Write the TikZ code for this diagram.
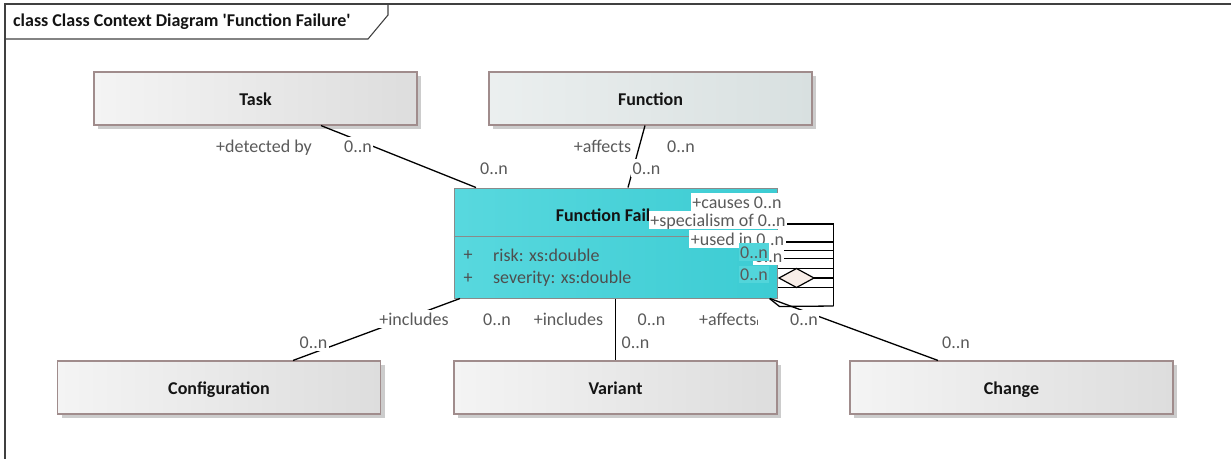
\documentclass[tikz,border=0pt]{standalone}
\usepackage{fontspec}
\setmainfont{Carlito}
\usetikzlibrary{shadows}

\definecolor{framegray}{HTML}{404040}
\definecolor{boxedge}{HTML}{A08C8C}
\definecolor{labelgray}{HTML}{5A5A5A}
\definecolor{attrgray}{HTML}{4E4E4E}
\definecolor{classL}{HTML}{F4F4F4}
\definecolor{classR}{HTML}{DDDDDD}
\definecolor{funcL}{HTML}{EBEFEF}
\definecolor{funcR}{HTML}{D8E0E0}
\definecolor{ffL}{HTML}{58D8DE}
\definecolor{ffR}{HTML}{3CCCD3}
\definecolor{ffEdge}{HTML}{8A8A8A}
\definecolor{tagcyan}{HTML}{52D5DA}
\definecolor{diamondfill}{HTML}{F8EEE8}

\tikzset{
  txt/.style={font=\fontsize{18}{20}\selectfont},
  btxt/.style={font=\fontsize{18}{20}\selectfont\bfseries},
  classbox/.style={draw=boxedge, line width=1.1pt, minimum width=323pt,
    minimum height=53pt, inner sep=0pt, left color=classL, right color=classR,
    btxt, text=black!92, text height=16pt, text depth=2pt,
    drop shadow={shadow xshift=4pt, shadow yshift=-4pt, fill=black!20, opacity=1}},
  funcbox/.style={classbox, left color=funcL, right color=funcR},
  ffbox/.style={draw=ffEdge, line width=1pt, minimum width=323pt,
    minimum height=110pt, inner sep=0pt, left color=ffL, right color=ffR},
  conn/.style={draw=black, line width=1.3pt},
  lbl/.style={txt, text=labelgray, fill=white, inner xsep=1.5pt, inner ysep=0.5pt,
    text height=14.5pt, text depth=2pt},
  cyanlbl/.style={lbl, fill=tagcyan},
  attr/.style={txt, text=attrgray, anchor=west, inner sep=0pt}
}

\begin{document}
\begin{tikzpicture}[x=1pt, y=-1pt]
\useasboundingbox (0,0) rectangle (1231,459);

% diagram frame and its name tab
\draw[framegray, line width=1.8pt] (1231,4) -- (5,4) -- (5,459);
\draw[framegray, line width=1.1pt] (5,39) -- (368,39) -- (388,15) -- (388,4);
\node[btxt, anchor=west, inner sep=0pt, text=black!92] (title) at (13,22)
  {class Class Context Diagram \textquotesingle Function Failure\textquotesingle};

% classes
\node[classbox] (task) at (255.5,98.5) {Task};
\node[funcbox]  (fn)   at (650.5,98.5) {Function};
\node[classbox] (conf) at (219,387.5)  {Configuration};
\node[classbox] (var)  at (615.5,387.5) {Variant};
\node[classbox] (chg)  at (1011.5,387.5) {Change};

% Function Failure class with its attribute compartment
\node[ffbox] (ff) at (615.5,243) {};
\draw[ffEdge, line width=1pt] ([yshift=7pt]ff.west) -- ([yshift=7pt]ff.east);
\node[btxt, text=black!92, inner sep=0pt] (fftitle) at (615.5,215) {Function Failure};
\node[txt, text=attrgray, inner sep=0pt] (plus1) at (468,256) {+};
\node[txt, text=attrgray, inner sep=0pt] (plus2) at (468,279) {+};
\node[attr] (risk) at (493,255) {risk: xs:double};
\node[attr] (sev)  at (493,279) {severity: xs:double};

% associations
\draw[conn] ([xshift=65.5pt]task.south) -- ([xshift=-139.5pt]ff.north);
\draw[conn] ([xshift=-5.5pt]fn.south) -- ([xshift=12.5pt]ff.north);
\draw[conn] ([xshift=-155.5pt]ff.south) -- ([xshift=74pt]conf.north);
\draw[conn] (ff.south) -- (var.north);
\draw[conn] ([xshift=154.5pt]ff.south) -- ([xshift=-73.5pt]chg.north);

% self associations of Function Failure
\foreach \dy in {19,1,-7.3,-15.7,-25.7,-44.3}
  \draw[conn] ([yshift=\dy pt]ff.east) -- ++(56,0);
\draw[conn] ([xshift=56pt,yshift=19pt]ff.east) -- ([xshift=56pt,yshift=-63pt]ff.east);
\draw[conn] ([xshift=-8pt]ff.south east) -- ++(10,8) -- ([xshift=56pt,yshift=-63pt]ff.east);
\draw[conn] ([xshift=36.5pt,yshift=-35pt]ff.east) -- ++(19.5,0);
\draw[conn, line width=1.2pt, fill=diamondfill] ([xshift=1.5pt,yshift=-35pt]ff.east)
  -- ++(17.5,-9.5) -- ++(17.5,9.5) -- ++(-17.5,9.5) -- cycle;

% role names and multiplicities
\node[lbl] (l1)  at (264,146)   {+detected by};
\node[lbl] (l2)  at (358,146)   {0..n};
\node[lbl] (l3)  at (494,168)   {0..n};
\node[lbl] (l4)  at (602.5,146) {+affects};
\node[lbl] (l5)  at (681,146)   {0..n};
\node[lbl] (l6)  at (646.5,168) {0..n};
\node[lbl] (l7)  at (414,319)   {+includes};
\node[lbl] (l8)  at (313.5,342) {0..n};
\node[lbl] (l9)  at (497,319)   {0..n};
\node[lbl] (l10) at (568.5,319) {+includes};
\node[lbl] (l11) at (651.5,319) {0..n};
\node[lbl] (l12) at (635.5,342) {0..n};
\node[lbl] (l13) at (729,319)   {+affects\raisebox{-0.5pt}{\fontsize{11}{12}\selectfont ı}};
\node[lbl] (l14) at (804,319)   {0..n};
\node[lbl] (l15) at (956,342)   {0..n};

\node[lbl] (s1) at (737,202)   {+causes 0..n};
\node[lbl] (s2) at (718,220)   {+specialism of 0..n};
\node[lbl] (s3) at (737.5,239) {+used in 0..n};
\node[lbl] (s4) at (768.5,256) {0..n};
\node[cyanlbl] (s5) at (754,252)   {0..n};
\node[cyanlbl] (s6) at (754,274.5) {0..n};
\end{tikzpicture}
\end{document}
